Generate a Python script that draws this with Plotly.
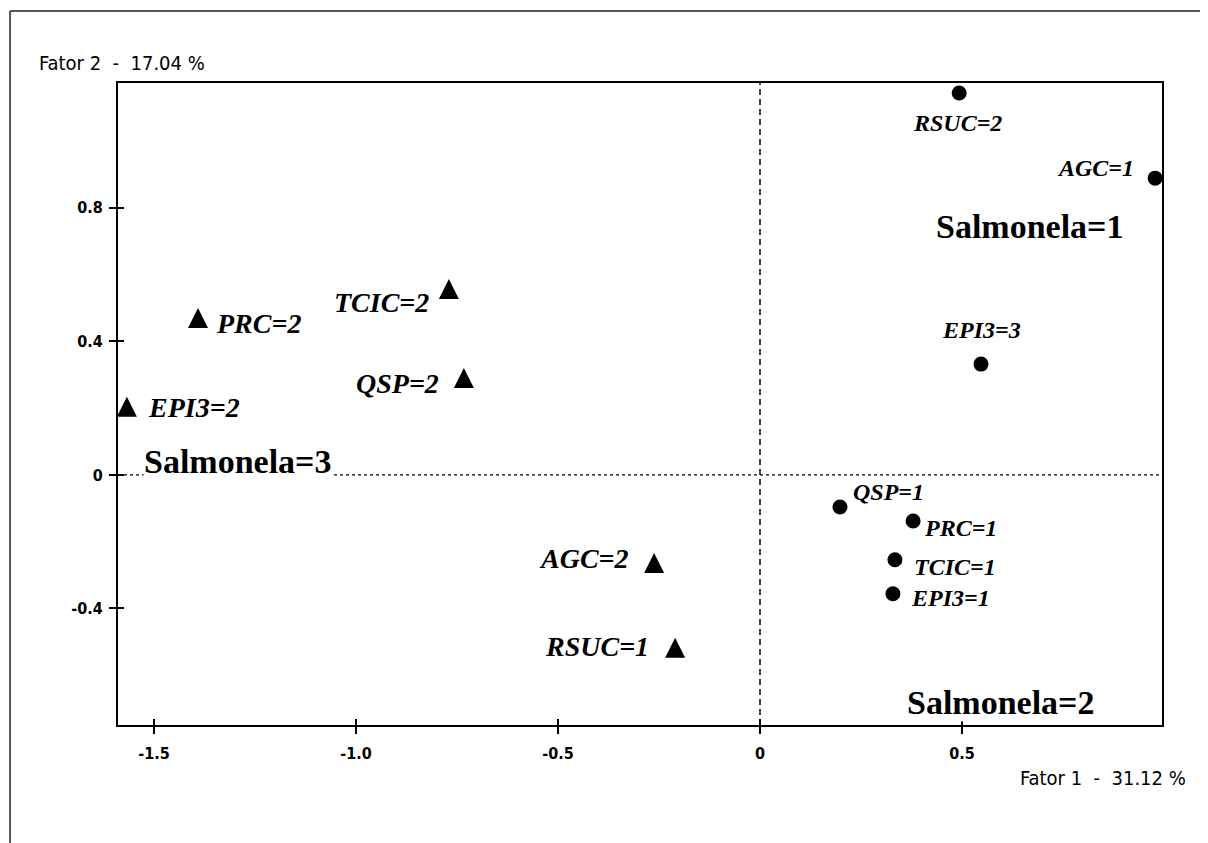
import plotly.graph_objects as go

# ---------------- data ----------------
tri_labels = ["PRC=2", "TCIC=2", "QSP=2", "EPI3=2", "AGC=2", "RSUC=1"]
tri_x = [-1.391, -0.770, -0.733, -1.567, -0.262, -0.210]
tri_y = [0.500, 0.587, 0.320, 0.234, -0.234, -0.488]

dot_labels = ["RSUC=2", "AGC=1", "EPI3=3", "QSP=1", "PRC=1", "TCIC=1", "EPI3=1"]
dot_x = [0.493, 0.978, 0.547, 0.198, 0.379, 0.334, 0.329]
dot_y = [1.144, 0.889, 0.332, -0.096, -0.138, -0.254, -0.356]

sal_labels = ["Salmonela=1", "Salmonela=2", "Salmonela=3"]
sal_x = [0.668, 0.597, -1.292]
sal_y = [0.743, -0.683, 0.039]

x_tickvals = [-1.5, -1.0, -0.5, 0, 0.5]
x_ticktext = ["-1.5", "-1.0", "-0.5", "0", "0.5"]
y_tickvals = [0.8, 0.4, 0, -0.4]
y_ticktext = ["0.8", "0.4", "0", "-0.4"]

x_title = "Fator 1  -  31.12 %"
y_title = "Fator 2  -  17.04 %"

# ---------------- styles ----------------
# label placement relative to its marker: (xanchor, xshift px, yshift px)
label_place = {
    "PRC=2": ("left", 17, -15), "TCIC=2": ("right", -19, -24),
    "QSP=2": ("right", -24, -15), "EPI3=2": ("left", 20, -11),
    "AGC=2": ("right", -24, -5), "RSUC=1": ("right", -25, -9),
    "RSUC=2": ("center", -2, -30), "AGC=1": ("right", -20, 10),
    "EPI3=3": ("center", 0, 34), "QSP=1": ("left", 12, 15),
    "PRC=1": ("left", 10, -7), "TCIC=1": ("left", 18, -7),
    "EPI3=1": ("left", 17, -4),
}
SERIF = "Liberation Serif, Times New Roman, serif"
NARROW = "Liberation Sans Narrow, Arial Narrow, DejaVu Sans Condensed, sans-serif"
X_RANGE = [-1.589, 0.995]
Y_RANGE = [-0.749, 1.174]

fig = go.Figure()
fig.add_trace(go.Scatter(x=tri_x, y=tri_y, mode="markers",
                         marker=dict(symbol="arrow-up", size=20, color="black",
                                     line=dict(width=0)),
                         cliponaxis=False, showlegend=False, hoverinfo="skip"))
fig.add_trace(go.Scatter(x=dot_x, y=dot_y, mode="markers",
                         marker=dict(symbol="circle", size=15, color="black"),
                         cliponaxis=False, showlegend=False, hoverinfo="skip"))
# helper trace for the overlay axes (inner half of crossing ticks)
fig.add_trace(go.Scatter(x=[], y=[], xaxis="x2", yaxis="y2", showlegend=False))

annotations = []
for labels, xs, ys, size in ((tri_labels, tri_x, tri_y, 28), (dot_labels, dot_x, dot_y, 24)):
    for lab, xv, yv in zip(labels, xs, ys):
        anc, dx, dy = label_place[lab]
        annotations.append(dict(x=xv, y=yv, xref="x", yref="y", text=lab, showarrow=False,
                                xanchor=anc, yanchor="middle", xshift=dx, yshift=dy,
                                bgcolor="white", borderpad=0,
                                font=dict(family=SERIF, size=size, color="black",
                                          weight="bold", style="italic")))
for lab, xv, yv in zip(sal_labels, sal_x, sal_y):
    annotations.append(dict(x=xv, y=yv, xref="x", yref="y", text=lab, showarrow=False,
                            xanchor="center", yanchor="middle", bgcolor="white", borderpad=0,
                            font=dict(family=SERIF, size=34, color="black", weight="bold")))
annotations.append(dict(x=-0.0776, y=1.031, xref="paper", yref="paper", text=y_title,
                        showarrow=False, xanchor="left", yanchor="middle",
                        font=dict(family=NARROW, size=20, color="black")))
annotations.append(dict(x=1.025, y=-0.0826, xref="paper", yref="paper", text=x_title,
                        showarrow=False, xanchor="right", yanchor="middle",
                        font=dict(family=NARROW, size=20, color="black")))

shapes = [
    dict(type="line", xref="paper", yref="y", x0=0, x1=1, y0=0, y1=0,
         line=dict(color="black", width=1.2, dash="3px,3px"), layer="below"),
    dict(type="line", xref="x", yref="paper", x0=0, x1=0, y0=0, y1=1,
         line=dict(color="black", width=1.5, dash="6px,4px"), layer="below"),
    # outer scan border (top and left)
    dict(type="line", xref="paper", yref="paper", x0=-0.1034, x1=1.05, y0=1.112, y1=1.112,
         line=dict(color="#555555", width=2)),
    dict(type="line", xref="paper", yref="paper", x0=-0.1034, x1=-0.1034, y0=1.112, y1=-0.2,
         line=dict(color="#555555", width=2)),
]

tickfont = dict(family=NARROW, size=16, color="black", weight="bold")
fig.update_layout(
    width=1200, height=835,
    margin=dict(l=110, r=46, t=75, b=118),
    paper_bgcolor="white", plot_bgcolor="white",
    annotations=annotations, shapes=shapes,
    xaxis=dict(range=X_RANGE, tickvals=x_tickvals, ticktext=x_ticktext,
               ticks="outside", ticklen=7, tickwidth=1.5, tickcolor="black",
               showline=True, linecolor="black", linewidth=2, mirror=True,
               showgrid=False, zeroline=False, tickfont=tickfont, ticklabelstandoff=6),
    yaxis=dict(range=Y_RANGE, tickvals=y_tickvals, ticktext=y_ticktext,
               ticks="outside", ticklen=7, tickwidth=1.5, tickcolor="black",
               showline=True, linecolor="black", linewidth=2, mirror=True,
               showgrid=False, zeroline=False, tickfont=tickfont, ticklabelstandoff=3),
    xaxis2=dict(overlaying="x", matches="x", anchor="y2", side="bottom",
                tickvals=x_tickvals, ticks="inside", ticklen=6, tickwidth=1.5,
                tickcolor="black", showticklabels=False, showline=False,
                showgrid=False, zeroline=False),
    yaxis2=dict(overlaying="y", matches="y", anchor="x2", side="left",
                tickvals=y_tickvals, ticks="inside", ticklen=6, tickwidth=1.5,
                tickcolor="black", showticklabels=False, showline=False,
                showgrid=False, zeroline=False),
)

fig.write_html("out.html")
